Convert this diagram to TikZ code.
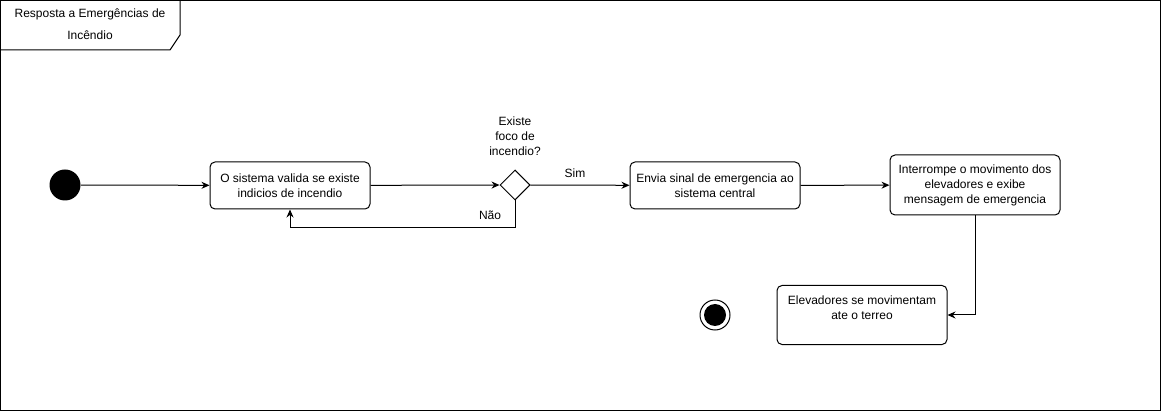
\documentclass[tikz,border=0pt]{standalone}
\usepackage{fontspec}
\setmainfont{Liberation Sans}
\usetikzlibrary{shapes.geometric,arrows.meta}

\begin{document}
\begin{tikzpicture}[x=1pt, y=-1pt, line width=1pt, >={Stealth[length=8pt,width=7pt]},
  every node/.style={font=\fontsize{12}{15}\selectfont, align=center},
  acao/.style={draw, rounded corners=5pt, inner sep=2pt}]
\useasboundingbox (0,0) rectangle (1161,411);
\draw (0.5,0.5) rectangle (1160.5,410.5);
\draw (0.5,50) -- (170,50) -- (180,35) -- (180,0.5);
\node (T) at (90,24) [font=\fontsize{12}{22}\selectfont] {Resposta a Emergências de\\Incêndio};

\node (A) at (65,185) [circle, fill, minimum size=31pt, inner sep=0pt] {};
\node (B) at (290,185.5) [acao, minimum width=160pt, minimum height=47pt] {O sistema valida se existe\\indicios de incendio};
\node (C) at (515,185) [diamond, draw, minimum size=30pt, inner sep=0pt] {};
\node (L) at (515,136) {Existe\\foco de\\incendio?};
\node (D) at (715,185.5) [acao, minimum width=170pt, minimum height=47pt] {Envia sinal de emergencia ao\\sistema central};
\node (E) at (975,185) [acao, minimum width=170pt, minimum height=60pt] {Interrompe o movimento dos\\elevadores e exibe\\mensagem de emergencia};
\node (F) at (862,315) [acao, minimum width=170pt, minimum height=59pt] {Elevadores se movimentam\\ate o terreo\\\mbox{}};
\node (G) at (715,315) [circle, draw, minimum size=30pt, inner sep=0pt] {};
\node (H) at (G) [circle, fill, minimum size=22pt, inner sep=0pt] {};
\node (S) at (575,173) {Sim};
\node (N) at (490,215) {Não};
\coordinate (K) at (515,228);

\draw[->] (A) to (B);
\draw[->] (B) to (C);
\draw[->] (C) to (D);
\draw[->] (D) to (E);
\draw[->] (C.south) -- (K) -| (B.south);
\draw[->] (E.south) |- (F.east);
\end{tikzpicture}
\end{document}
